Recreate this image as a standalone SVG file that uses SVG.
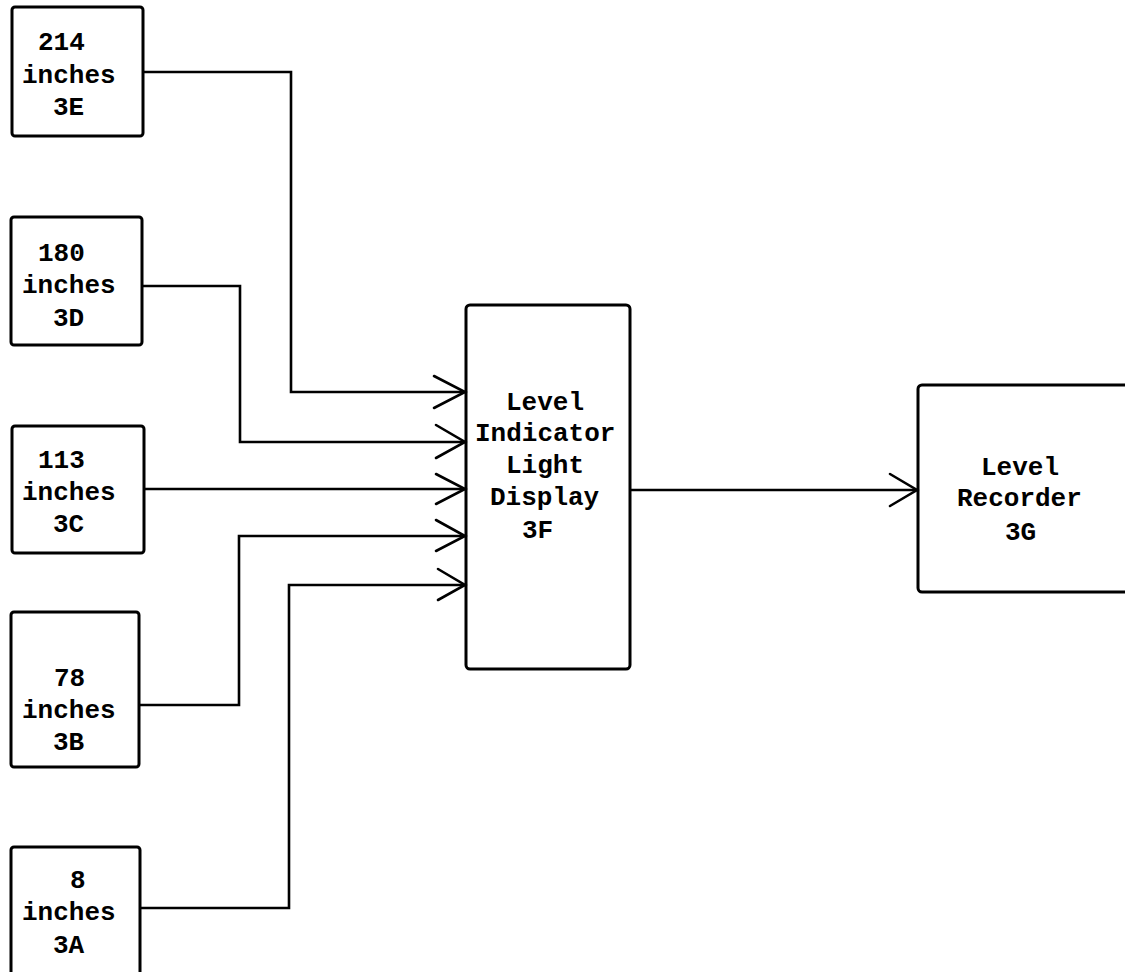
<svg xmlns="http://www.w3.org/2000/svg" width="1125" height="972" viewBox="0 0 1125 972">
<style>
.box{fill:none;stroke:#000;stroke-width:3}
.t{font-family:"Liberation Mono","Courier New",monospace;font-size:26px;font-weight:bold;fill:#000}
.c{fill:none;stroke:#000;stroke-width:2.6;stroke-linejoin:miter}
.ah{fill:none;stroke:#000;stroke-width:2.6;stroke-linecap:round}
</style>
<rect width="1125" height="972" fill="#fff"/>
<g id="node-3E">
<rect class="box" x="12" y="7" width="131" height="129" rx="3"/>
<text class="t" x="38" y="50">214</text>
<text class="t" x="22" y="83">inches</text>
<text class="t" x="53" y="115">3E</text>
</g>
<g id="node-3D">
<rect class="box" x="11" y="217" width="131" height="128" rx="3"/>
<text class="t" x="38" y="261">180</text>
<text class="t" x="22" y="293">inches</text>
<text class="t" x="53" y="326">3D</text>
</g>
<g id="node-3C">
<rect class="box" x="12" y="426" width="132" height="127" rx="3"/>
<text class="t" x="38" y="468">113</text>
<text class="t" x="22" y="500">inches</text>
<text class="t" x="53" y="532">3C</text>
</g>
<g id="node-3B">
<rect class="box" x="11" y="612" width="128" height="155" rx="3"/>
<text class="t" x="54" y="686">78</text>
<text class="t" x="22" y="718">inches</text>
<text class="t" x="53" y="750">3B</text>
</g>
<g id="node-3A">
<rect class="box" x="11" y="847" width="129" height="140" rx="3"/>
<text class="t" x="70" y="888">8</text>
<text class="t" x="22" y="920">inches</text>
<text class="t" x="53" y="953">3A</text>
</g>
<g id="node-3F">
<rect class="box" x="466" y="305" width="164" height="364" rx="4"/>
<text class="t" x="506" y="410">Level</text>
<text class="t" x="475" y="441">Indicator</text>
<text class="t" x="506" y="473">Light</text>
<text class="t" x="490" y="505">Display</text>
<text class="t" x="522" y="538">3F</text>
</g>
<g id="node-3G">
<rect class="box" x="918" y="385" width="215" height="207" rx="4"/>
<text class="t" x="981" y="475">Level</text>
<text class="t" x="957" y="506">Recorder</text>
<text class="t" x="1005" y="540">3G</text>
</g>
<g id="connectors">
<polyline class="c" points="143,72 291,72 291,392 466,392"/>
<polyline class="c" points="142,286 240,286 240,442 466,442"/>
<polyline class="c" points="144,489 466,489"/>
<polyline class="c" points="139,705 239,705 239,536 466,536"/>
<polyline class="c" points="140,908 289,908 289,585 466,585"/>
<polyline class="c" points="630,490 918,490"/>
<polyline class="ah" points="434,376 465,392 434,408"/>
<polyline class="ah" points="436,425 465,442 436,458"/>
<polyline class="ah" points="436,474 465,489 436,504"/>
<polyline class="ah" points="436,520 465,536 436,551"/>
<polyline class="ah" points="438,569 465,585 438,600"/>
<polyline class="ah" points="890,474 917,490 890,506"/>
</g>
</svg>
